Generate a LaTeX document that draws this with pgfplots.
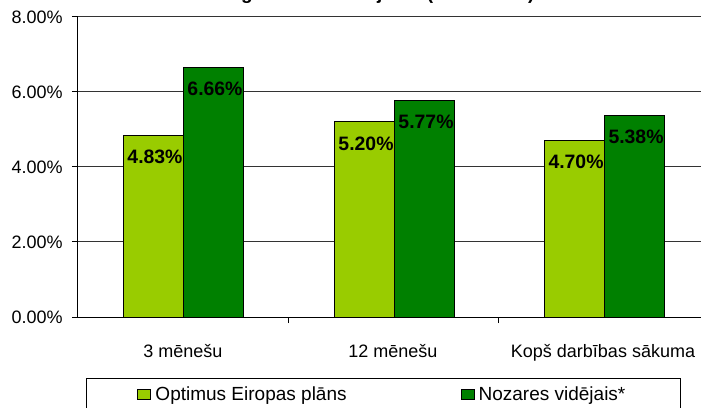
\documentclass[border=0pt]{standalone}
\usepackage{pgfplots}
\pgfplotsset{compat=1.18}
\usepackage{fontspec}
\setmainfont{Liberation Sans}
\definecolor{lightg}{HTML}{99CC00}
\definecolor{darkg}{HTML}{008000}
\begin{document}
\begin{tikzpicture}
\begin{axis}[
  at={(0,0)}, anchor=south west,
  scale only axis, width=315pt, height=150pt,
  xmin=78, xmax=708, ymin=0, ymax=8,
  axis x line*=bottom, axis y line*=left,
  axis line style={black, line width=0.5pt, -},
  ytick={0,2,4,6,8},
  ymajorgrids, grid style={black!80, line width=0.5pt},
  /pgf/number format/assume math mode=true,
  yticklabel={\pgfmathprintnumber[fixed,fixed zerofill,precision=2]{\tick}\%},
  xtick={183,393,603},
  xticklabels={3 mēnešu, 12 mēnešu, Kopš darbības sākuma},
  minor xtick={288,498},
  tick align=outside,
  major tick length=3pt, minor tick length=3pt,
  major x tick style={draw=none},
  minor x tick style={black, line width=0.5pt},
  major y tick style={black, line width=0.5pt},
  tick label style={font=\fontsize{9}{11}\selectfont},
  xticklabel style={anchor=base, yshift=-17pt},
  yticklabel style={anchor=east, inner sep=0pt, xshift=-4.5pt},
  bar width=60,
  sq legend/.style={legend image code/.code={\draw[##1, line width=0.5pt] (0pt,-2.5pt) rectangle (6.5pt,2.5pt);}},
  legend columns=2,
  legend style={at={(0.0127,-0.2033)}, anchor=north west, draw=black, line width=0.5pt, inner xsep=25.5pt, font=\fontsize{9.5}{11}\selectfont, /tikz/every even column/.append style={column sep=55pt}},
  every axis title shift=0pt,
  title={Ienesīgums salīdzinājumā (30.09.2008)},
  title style={at={(0.449,1.057)}, anchor=base, font=\fontsize{9.5}{11}\selectfont\bfseries},
  every node near coord/.append style={anchor=north, inner sep=0pt, yshift=-7pt, xshift=1pt, font=\fontsize{9.7}{12}\selectfont\bfseries, text=black},
]
\addplot[ybar, bar shift=0pt, fill=lightg, draw=black, line width=0.5pt, sq legend,
  nodes near coords={\pgfmathprintnumber[fixed,fixed zerofill,precision=2]{\pgfplotspointmeta}\%}]
  coordinates {(153,4.83) (364,5.20) (574,4.70)};
\addplot[ybar, bar shift=0pt, fill=darkg, draw=black, line width=0.5pt, sq legend,
  nodes near coords={\pgfmathprintnumber[fixed,fixed zerofill,precision=2]{\pgfplotspointmeta}\%}]
  coordinates {(213,6.66) (424,5.77) (634,5.38)};
\legend{Optimus Eiropas plāns, Nozares vidējais*}
\end{axis}
\pgfresetboundingbox
\useasboundingbox (-39pt,-45pt) rectangle (311.5pt,158.5pt);
\end{tikzpicture}
\end{document}
